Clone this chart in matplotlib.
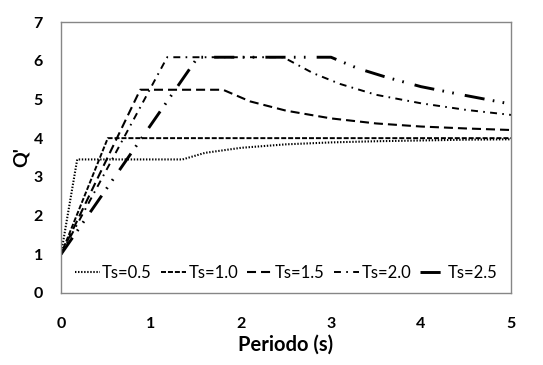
import matplotlib
matplotlib.use("Agg")
import matplotlib.pyplot as plt

plt.rcParams['font.family'] = ['Lato', 'DejaVu Sans']
plt.rcParams['lines.scale_dashes'] = False

# Data
t_05 = [0, 0.18, 1.35, 1.6, 2.0, 2.5, 3.0, 3.5, 4.0, 4.5, 5.0]
q_05 = [1, 3.45, 3.45, 3.62, 3.75, 3.84, 3.89, 3.92, 3.94, 3.96, 3.97]

t_10 = [0, 0.52, 5.0]
q_10 = [1, 4.0, 4.0]

t_15 = [0, 0.88, 1.8, 2.1, 2.5, 3.0, 3.5, 4.0, 4.5, 5.0]
q_15 = [1, 5.25, 5.25, 4.95, 4.71, 4.51, 4.38, 4.30, 4.25, 4.21]

t_20 = [0, 1.18, 2.47, 2.8, 3.1, 3.5, 4.0, 4.5, 5.0]
q_20 = [1, 6.09, 6.09, 5.68, 5.40, 5.12, 4.90, 4.73, 4.60]

t_25 = [0, 1.52, 3.0, 3.3, 3.62, 4.0, 4.5, 5.0]
q_25 = [1, 6.09, 6.09, 5.80, 5.57, 5.33, 5.10, 4.88]

labels = ["Ts=0.5", "Ts=1.0", "Ts=1.5", "Ts=2.0", "Ts=2.5"]
x_ticks = [0, 1, 2, 3, 4, 5]
y_ticks = [0, 1, 2, 3, 4, 5, 6, 7]

fig = plt.figure(figsize=(5.43, 3.65), dpi=100)
ax = fig.add_axes([61/543, 1-293/365, 450/543, 271/365])

series = [
    (t_05, q_05, dict(lw=1.5, dashes=(1.0, 1.2))),
    (t_10, q_10, dict(lw=1.4, dashes=(3.6, 1.4))),
    (t_15, q_15, dict(lw=1.5, dashes=(6.5, 3.6))),
    (t_20, q_20, dict(lw=1.4, dashes=(5.0, 3.8, 1.2, 3.8))),
    (t_25, q_25, dict(lw=2.1, dashes=(14.5, 6, 1.2, 6, 1.2, 8))),
]
for (t, q, st), lab in zip(series, labels):
    ax.plot(t, q, color='black', label=lab, **st)

ax.set_xlim(0, 5)
ax.set_ylim(0, 7)
ax.set_xticks(x_ticks)
ax.set_yticks(y_ticks)
ax.tick_params(length=0, labelsize=11.5)
ax.tick_params(axis='x', pad=17)
ax.tick_params(axis='y', pad=13)
for lbl in ax.get_xticklabels() + ax.get_yticklabels():
    lbl.set_fontweight('bold')
for s in ax.spines.values():
    s.set_color('#868686')
    s.set_linewidth(1.0)

ax.set_xlabel("Periodo (s)", fontsize=14.5, fontweight='bold', labelpad=3)
ax.set_ylabel("Q'", fontsize=14, fontweight='bold', labelpad=3)

leg = ax.legend(loc='lower center', bbox_to_anchor=(0.5, 0.0), ncol=5, frameon=False,
                fontsize=12, handlelength=1.5, handletextpad=0.15, columnspacing=0.55,
                borderaxespad=0.35)

fig.savefig("out.png", dpi=100)
